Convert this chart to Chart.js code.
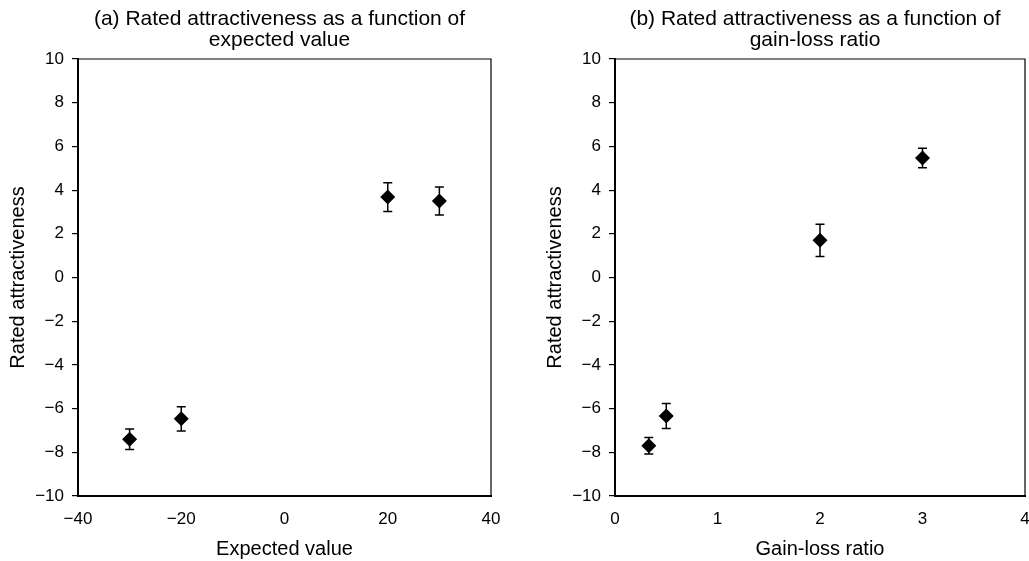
<!DOCTYPE html>
<html>
<head>
<meta charset="utf-8">
<script src="https://cdn.jsdelivr.net/npm/chart.js@4"></script>
<style>
    html, body { margin: 0; padding: 0; background: #fff; overflow: hidden; }
    #wrap { position: relative; width: 1029px; height: 561px; overflow: hidden; }
    .box { position: absolute; top: 0; height: 561px; }
</style>
</head>
<body>
<div id="wrap">
    <div class="box" style="left:0;width:537px"><canvas id="evChart"></canvas></div>
    <div class="box" style="left:537px;width:530px"><canvas id="glChart"></canvas></div>
</div>
<script>
// (a) expected value
var evX = [-30, -20, 20, 30];
var evY = [-7.4, -6.47, 3.68, 3.5];
var evErr = [0.47, 0.55, 0.66, 0.64];

// (b) gain-loss ratio
var glX = [0.33, 0.5, 2, 3];
var glY = [-7.7, -6.34, 1.7, 5.47];
var glErr = [0.38, 0.57, 0.74, 0.45];

var yTicks = [-10, -8, -6, -4, -2, 0, 2, 4, 6, 8, 10];

var FONT = "'Liberation Sans', Arial, sans-serif";

// error bars + frame + two-line title, all placed through the chart's scales
var extras = {
    id: "extras",
    afterDatasetsDraw: function (chart) {
        var ctx = chart.ctx;
        var xs = chart.scales.x, ys = chart.scales.y;
        var ds = chart.data.datasets[0];
        var err = chart.options.plugins.extras.err;
        ctx.save();
        ctx.strokeStyle = "#000";
        ctx.lineWidth = 1.5;
        ds.data.forEach(function (p, i) {
            var px = xs.getPixelForValue(p.x);
            var top = ys.getPixelForValue(p.y + err[i]);
            var bot = ys.getPixelForValue(p.y - err[i]);
            ctx.beginPath();
            ctx.moveTo(px, top); ctx.lineTo(px, bot);
            ctx.moveTo(px - 4.5, top); ctx.lineTo(px + 4.5, top);
            ctx.moveTo(px - 4.5, bot); ctx.lineTo(px + 4.5, bot);
            ctx.stroke();
        });
        ctx.restore();
    },
    afterDraw: function (chart) {
        var ctx = chart.ctx;
        var a = chart.chartArea;
        ctx.save();
        ctx.strokeStyle = "#000";
        ctx.lineWidth = 1.2;
        ctx.beginPath();
        ctx.moveTo(a.left, a.top); ctx.lineTo(a.right, a.top); ctx.lineTo(a.right, a.bottom);
        ctx.stroke();
        var lines = chart.options.plugins.extras.title;
        ctx.fillStyle = "#000";
        ctx.font = "21px " + FONT;
        ctx.textAlign = "center";
        ctx.textBaseline = "middle";
        var cx = (a.left + a.right) / 2 - 5;
        ctx.fillText(lines[0], cx, 19);
        ctx.fillText(lines[1], cx, 40);
        ctx.restore();
    }
};

function makeChart(id, xs, ys, err, xMin, xMax, xStep, xTitle, title) {
    var pts = xs.map(function (v, i) { return { x: v, y: ys[i] }; });
    return new Chart(document.getElementById(id), {
        type: "scatter",
        data: {
            datasets: [{
                data: pts,
                pointStyle: "rectRot",
                pointRadius: 7.5,
                backgroundColor: "#000",
                borderColor: "#000",
                borderWidth: 0
            }]
        },
        options: {
            responsive: true,
            maintainAspectRatio: false,
            animation: false,
            layout: { padding: { top: 59, left: 0, right: id == "evChart" ? 46 : 42, bottom: 0 } },
            plugins: {
                legend: { display: false },
                tooltip: { enabled: false },
                extras: { err: err, title: title }
            },
            scales: {
                x: {
                    type: "linear",
                    min: xMin,
                    max: xMax,
                    afterFit: function (s) { s.height = 65; },
                    afterBuildTicks: function (s) {
                        var t = [];
                        for (var v = xMin; v <= xMax + 1e-9; v += xStep) t.push({ value: v });
                        s.ticks = t;
                    },
                    grid: { display: false },
                    border: { display: true, color: "#000", width: 2 },
                    ticks: {
                        color: "#000",
                        font: { family: FONT, size: 17 },
                        padding: 5,
                        maxRotation: 0,
                        callback: function (v) { return v < 0 ? "\u2212" + Math.abs(v) : String(v); }
                    },
                    title: {
                        display: true,
                        text: xTitle,
                        color: "#000",
                        font: { family: FONT, size: 20 },
                        padding: { top: 0, bottom: 0 }
                    }
                },
                y: {
                    min: -10,
                    max: 10,
                    afterFit: function (s) { s.width = 78; },
                    afterBuildTicks: function (s) {
                        s.ticks = yTicks.map(function (v) { return { value: v }; });
                    },
                    grid: { drawOnChartArea: false, color: "#000", lineWidth: 1.2, tickLength: 6 },
                    border: { display: true, color: "#000", width: 2 },
                    ticks: {
                        color: "#000",
                        font: { family: FONT, size: 17 },
                        padding: 8,
                        callback: function (v) { return v < 0 ? "\u2212" + Math.abs(v) : String(v); }
                    },
                    title: {
                        display: true,
                        text: "Rated attractiveness",
                        color: "#000",
                        font: { family: FONT, size: 20 },
                        padding: { top: 6, bottom: 0 }
                    }
                }
            }
        },
        plugins: [extras]
    });
}

makeChart("evChart", evX, evY, evErr, -40, 40, 20, "Expected value",
    ["(a) Rated attractiveness as a function of", "expected value"]);
makeChart("glChart", glX, glY, glErr, 0, 4, 1, "Gain-loss ratio",
    ["(b) Rated attractiveness as a function of", "gain-loss ratio"]);
</script>
</body>
</html>
